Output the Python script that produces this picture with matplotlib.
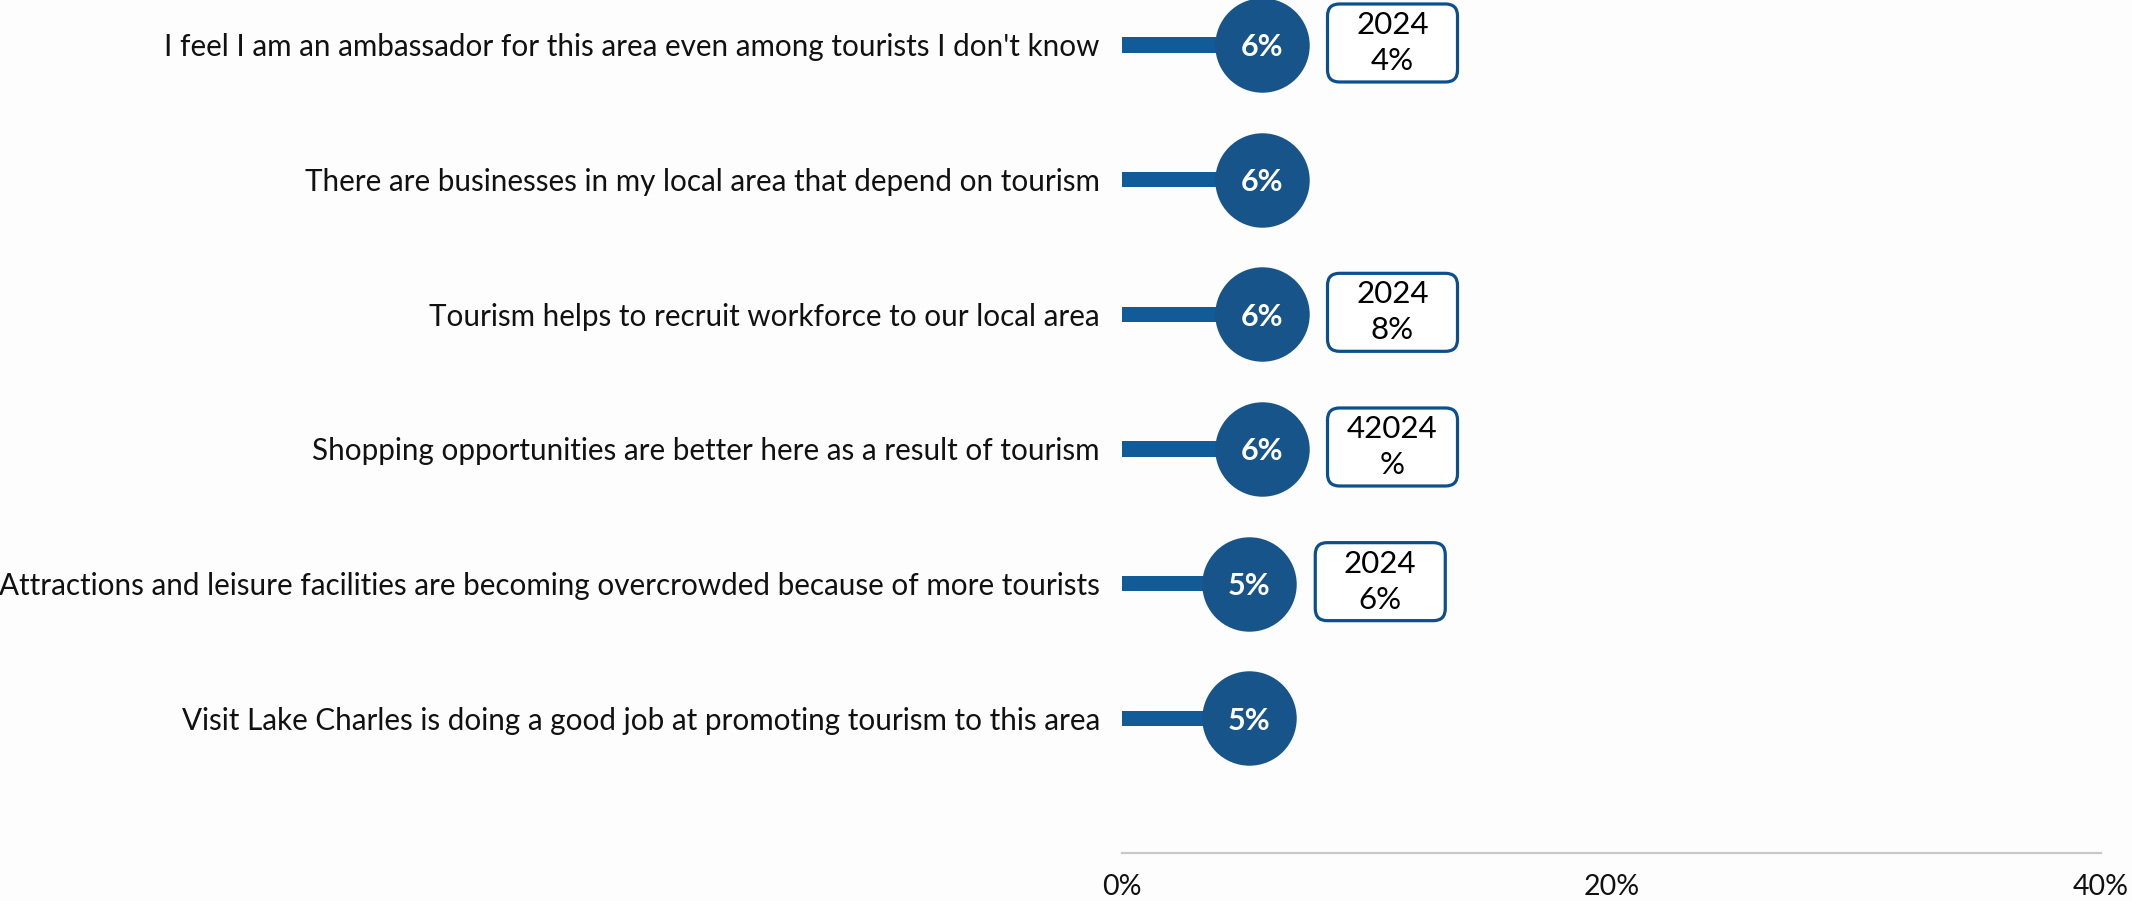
import matplotlib
matplotlib.use("Agg")
import matplotlib.pyplot as plt
from matplotlib.patches import FancyBboxPatch
from matplotlib.transforms import IdentityTransform

# statements, top to bottom
statements = [
    "I feel I am an ambassador for this area even among tourists I don't know",
    "There are businesses in my local area that depend on tourism",
    "Tourism helps to recruit workforce to our local area",
    "Shopping opportunities are better here as a result of tourism",
    "Attractions and leisure facilities are becoming overcrowded because of more tourists",
    "Visit Lake Charles is doing a good job at promoting tourism to this area",
]
share_pct = [5.7, 5.7, 5.7, 5.7, 5.2, 5.2]
# previous-year callouts (None = no callout for that row)
callouts = ["2024\n4%", None, "2024\n8%", "42024\n%", "2024\n6%", None]
xticks = [0, 20, 40]
xticklabels = ["0%", "20%", "40%"]

BAR_C = "#105b98"
DOT_C = "#175489"
BOX_EC = "#0b4f8f"
BG = "#fdfdfd"

plt.rcParams["font.family"] = ["Lato", "DejaVu Sans"]

DPI = 100
W, H = 2132, 901
fig = plt.figure(figsize=(W / DPI, H / DPI), dpi=DPI, facecolor=BG)
ax = fig.add_axes([1122 / W, 48 / H, 979 / W, 1 - 48 / H])
ax.set_facecolor(BG)

rows = list(range(len(statements)))
ax.barh(rows, share_pct, height=0.112, left=0, color=BAR_C, zorder=2)
ax.plot(share_pct, rows, "o", ms=68, color=DOT_C, mec="none", zorder=3)
for v, r in zip(share_pct, rows):
    ax.text(v, r, f"{v:.0f}%", ha="center", va="center_baseline", color="white",
            fontsize=22, fontweight="bold", zorder=4)

ax.set_xlim(0, 40)
ax.set_ylim(6.0, -0.334)
ax.set_yticks(rows)
ax.set_yticklabels(statements, fontsize=21.3, color="#111111")
ax.set_xticks(xticks)
ax.set_xticklabels(xticklabels, fontsize=20.5, color="#111111")
ax.tick_params(axis="both", length=0)
ax.tick_params(axis="y", pad=16)
ax.tick_params(axis="x", pad=15)
for s in ("top", "right", "left"):
    ax.spines[s].set_visible(False)
ax.spines["bottom"].set_color("#c8c8c8")
ax.spines["bottom"].set_linewidth(1.6)

# previous-year callout boxes, placed in pixels to the right of each dot
bw, bh = 130, 78
for v, r, txt in zip(share_pct, rows, callouts):
    if txt is None:
        continue
    px, py = ax.transData.transform((v, r))
    cx, cy = px + 131, py + 2
    fig.patches.append(FancyBboxPatch((cx - bw / 2, cy - bh / 2), bw, bh,
                                      boxstyle="round,pad=0,rounding_size=12",
                                      transform=IdentityTransform(), fc="white",
                                      ec=BOX_EC, lw=2.3, figure=fig))
    fig.text(cx, cy, txt, transform=IdentityTransform(), ha="center", va="center",
             fontsize=22.5, color="black", linespacing=1.35)

fig.savefig("out.png", dpi=DPI, facecolor=BG)
